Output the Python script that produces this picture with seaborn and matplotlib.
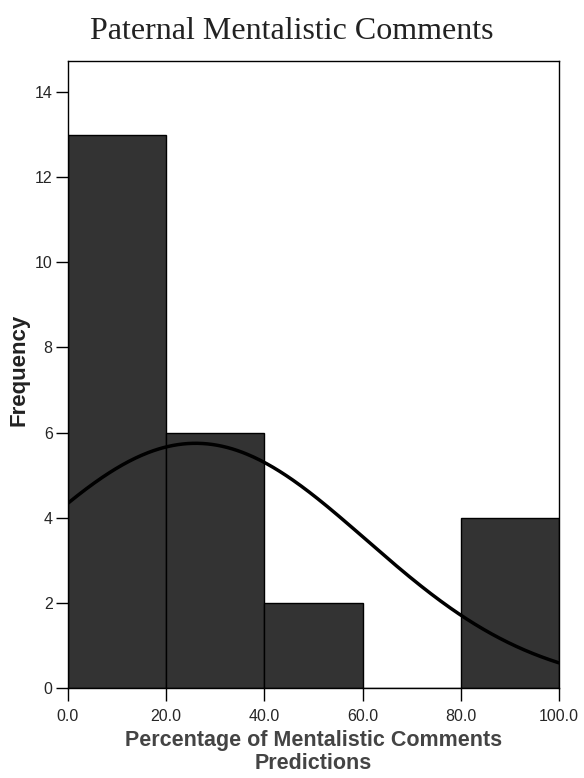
import numpy as np
import pandas as pd
import seaborn as sns
import matplotlib.pyplot as plt

# histogram bins and counts
bin_edges = [0, 20, 40, 60, 80, 100]
bin_mids = [10, 30, 50, 70, 90]
counts = [13, 6, 2, 0, 4]

# normal curve overlay
curve_mean = 26.0
curve_sd = 34.7

x_ticks = [0, 20, 40, 60, 80, 100]
x_tick_labels = ["0.0", "20.0", "40.0", "60.0", "80.0", "100.0"]
y_ticks = [0, 2, 4, 6, 8, 10, 12, 14]

sns.set_style("white")
plt.rcParams['font.family'] = ['Liberation Sans', 'DejaVu Sans']

df = pd.DataFrame({"mid": bin_mids, "count": counts})
n_total = sum(counts)
width = bin_edges[1] - bin_edges[0]

fig = plt.figure(figsize=(5.84, 7.78), dpi=100)
ax = fig.add_axes([0.1164, 0.1157, 0.8406, 0.8059])

sns.histplot(data=df, x="mid", weights="count", bins=bin_edges, ax=ax,
             color="#333333", edgecolor="black", linewidth=1.0, alpha=1)

xs = np.linspace(0, 100, 300)
ys = n_total * width * np.exp(-(xs - curve_mean) ** 2 / (2 * curve_sd ** 2)) / (curve_sd * np.sqrt(2 * np.pi))
sns.lineplot(x=xs, y=ys, color="black", linewidth=2.5, ax=ax)

ax.set_xlim(0, 100)
ax.set_ylim(0, 14.73)
ax.set_xticks(x_ticks)
ax.set_xticklabels(x_tick_labels, fontsize=11.5)
ax.set_yticks(y_ticks)
ax.set_yticklabels([str(v) for v in y_ticks], fontsize=11.5)
ax.tick_params(axis='both', direction='out', length=9, width=1, color='black',
               left=True, bottom=True)
ax.tick_params(axis='x', pad=6)
ax.tick_params(axis='y', pad=2)
for s in ax.spines.values():
    s.set_color('black')
    s.set_linewidth(1.0)

ax.set_xlabel("Percentage of Mentalistic Comments\nPredictions", fontsize=15.5,
              fontweight='bold', color='#444444', linespacing=1.15, va='center')
ax.xaxis.set_label_coords(0.5, -0.102)
ax.set_ylabel("Frequency", fontsize=16, fontweight='bold', color='#222222', va='center')
ax.yaxis.set_label_coords(-0.1, 0.508)

fig.text(0.5, 0.959, "Paternal Mentalistic Comments", ha='center', va='center',
         fontsize=23, family=['Liberation Serif', 'DejaVu Serif'], color='#222222')

plt.savefig("out.png", dpi=100)
